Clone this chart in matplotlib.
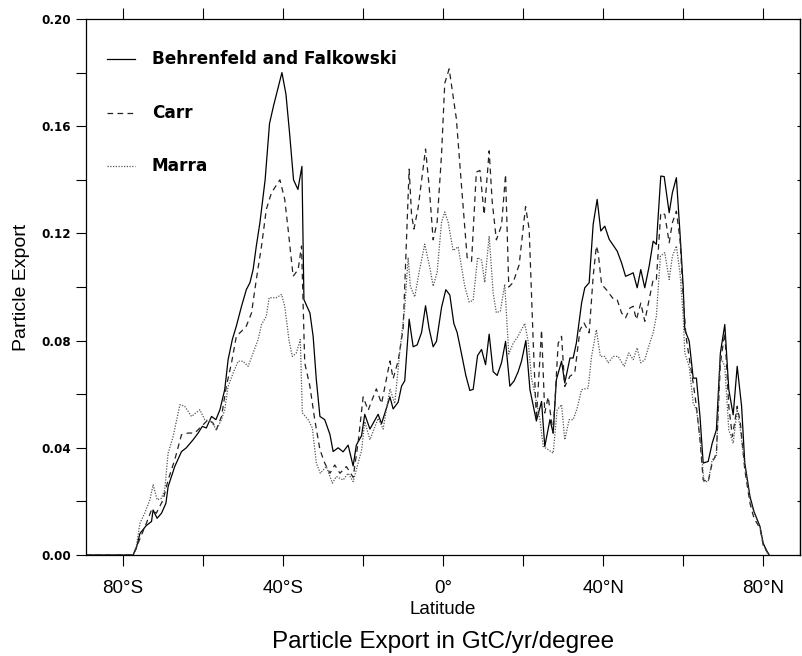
import numpy as np
import matplotlib
matplotlib.use("Agg")
import matplotlib.pyplot as plt
from matplotlib.ticker import FixedLocator, FuncFormatter

# zonal particle export (GtC/yr/degree) for three productivity models
bf_lat = [-89.4, -77.5, -76.7, -75.8, -74.2, -72.9, -72.5, -71.5, -70.4, -69.3, -68.75, -67.1, -65.4,
          -64.2, -62.5, -61.25, -60.2, -59.2, -57.9, -56.8, -55.8, -54.6, -53.75, -52.7, -51.7,
          -50.4, -49.2, -48.3, -47.5, -46.7, -45.8, -45.0, -44.5, -43.4, -42.4, -40.3, -39.3,
          -38.4, -37.4, -36.3, -35.3, -34.8, -33.3, -32.5, -31.7, -30.8, -29.6, -28.3, -27.5,
          -26.25, -25.0, -23.75, -22.5, -21.7, -20.4, -19.6, -18.3, -16.25, -15.4, -13.3, -12.5,
          -11.25, -10.4, -9.6, -8.5, -7.5, -6.5, -5.4, -4.4, -3.5, -2.5, -1.67, -0.4, 0.67, 1.67,
          2.67, 3.5, 4.6, 5.67, 6.67, 7.5, 8.6, 9.6, 10.6, 11.5, 12.5, 13.5, 14.6, 15.6, 16.67,
          17.75, 18.75, 19.6, 20.67, 21.7, 23.3, 24.6, 25.4, 26.7, 27.5, 28.3, 29.6, 30.4, 31.7,
          32.5, 33.3, 34.6, 35.4, 36.5, 37.5, 38.5, 39.4, 40.4, 41.5, 43.5, 44.6, 45.6, 46.7,
          47.5, 48.5, 49.4, 50.4, 51.5, 52.5, 53.3, 54.4, 55.25, 56.5, 57.3, 58.3, 59.2, 60.0,
          60.4, 61.5, 62.5, 63.3, 64.2, 65.0, 66.25, 67.25, 68.3, 69.3, 70.4, 71.4, 72.5, 73.5,
          74.6, 75.4, 76.7, 77.7, 79.2, 80.0, 81.0, 81.5]
bf_val = [0.0, 0.0, 0.0025, 0.008, 0.011, 0.0125, 0.0168, 0.0137, 0.0156, 0.0193, 0.0255, 0.033, 0.0386,
          0.040, 0.043, 0.0455, 0.048, 0.0474, 0.0517, 0.0505, 0.0542, 0.0617, 0.0729, 0.0804, 0.0854,
          0.0928, 0.099, 0.1016, 0.1065, 0.1153, 0.124, 0.134, 0.140, 0.161, 0.1676, 0.180, 0.172,
          0.1576, 0.140, 0.1364, 0.145, 0.0953, 0.0903, 0.0816, 0.0654, 0.0517, 0.0505, 0.045, 0.0386,
          0.040, 0.0385, 0.041, 0.0332, 0.041, 0.0445, 0.0525, 0.047, 0.0525, 0.049, 0.059, 0.0545,
          0.057, 0.063, 0.065, 0.088, 0.0777, 0.0784, 0.083, 0.093, 0.0844, 0.0777, 0.0797, 0.0924, 0.099, 0.097,
          0.0864, 0.083, 0.075, 0.067, 0.0614, 0.0618, 0.0744, 0.0767, 0.071, 0.0824, 0.0684, 0.067, 0.0718, 0.0797, 0.063,
          0.065, 0.0684, 0.0724, 0.080, 0.0617, 0.050, 0.0573, 0.0405, 0.0505, 0.0455, 0.0654, 0.0723, 0.0642, 0.0735,
          0.0735, 0.0791, 0.094, 0.0997, 0.1016, 0.1234, 0.1327, 0.1209, 0.1227, 0.1178, 0.1134, 0.109, 0.104, 0.1047,
          0.1053, 0.0997, 0.1065, 0.0997, 0.1078, 0.1171, 0.1159, 0.1414, 0.1412, 0.1277, 0.1352, 0.1408, 0.1202, 0.1003,
          0.0841, 0.0798, 0.066, 0.066, 0.0517, 0.0343, 0.0349, 0.0417, 0.0467, 0.0754, 0.086, 0.0617, 0.0523, 0.0704,
          0.0555, 0.0343, 0.0218, 0.0162, 0.0106, 0.0044, 0.0012, 0.0]

carr_lat = [-89.4, -77.5, -76.25, -74.2, -72.9, -71.7, -70.0, -68.75, -67.1, -65.4, -63.75, -62.1, -60.4,
            -58.75, -57.5, -56.7, -55.4, -54.2, -52.9, -51.7, -50.4, -49.2, -47.9, -46.7, -45.4,
            -44.2, -42.9, -40.8, -39.6, -38.75, -37.5, -36.25, -35.4, -35.0, -34.6, -33.3, -32.1,
            -30.8, -29.6, -28.3, -27.1, -25.8, -24.2, -22.5, -21.25, -20.0, -18.75, -16.7, -15.4,
            -13.3, -12.5, -11.25, -10.0, -8.5, -7.9, -7.3, -6.25, -4.4, -3.5, -2.5, -1.5, -0.4, 0.4,
            1.5, 3.3, 4.6, 6.0, 7.1, 8.3, 9.2, 10.25, 11.5, 12.25, 13.3, 14.6, 15.6, 16.4, 17.5, 19.0,
            20.6, 21.5, 22.5, 23.3, 24.6, 25.4, 26.25, 27.5, 28.75, 29.6, 30.4, 31.7, 32.9, 34.2, 35.2,
            36.5, 37.5, 38.3, 38.75, 39.6, 40.8, 42.5, 43.5, 44.6, 45.6, 46.7, 47.5, 48.3, 49.4, 50.4,
            51.5, 52.5, 53.3, 54.4, 55.4, 56.5, 57.3, 58.3, 59.2, 60.0, 60.7, 61.7, 62.5, 63.3, 64.2,
            65.0, 66.25, 67.25, 68.3, 69.3, 70.4, 71.4, 72.3, 73.5, 74.3, 75.4, 76.7, 77.7, 79.2, 80.0,
            81.25]
carr_val = [0.0, 0.0, 0.0044, 0.0118, 0.0168, 0.0156, 0.0206, 0.028, 0.0355, 0.0449, 0.0455, 0.0455, 0.048,
            0.0505, 0.0492, 0.0467, 0.0517, 0.0629, 0.0717, 0.0816, 0.0835, 0.0854, 0.0903, 0.1028, 0.1153,
            0.129, 0.1352, 0.140, 0.1327, 0.1215, 0.104, 0.1065, 0.1153, 0.0928, 0.0717, 0.0629, 0.0505,
            0.0393, 0.0343, 0.0305, 0.0336, 0.0305, 0.033, 0.029, 0.042, 0.059, 0.054, 0.062, 0.0565,
            0.0724, 0.0658, 0.0724, 0.0844, 0.144, 0.127, 0.1216, 0.1296, 0.1515, 0.1375, 0.1176, 0.1242, 0.1495, 0.176,
            0.1814, 0.1628, 0.1375, 0.111, 0.1096, 0.1429, 0.1435, 0.127, 0.1508, 0.132, 0.1176, 0.123, 0.142, 0.100, 0.1017, 0.1083,
            0.130, 0.1216, 0.080, 0.0505, 0.084, 0.053, 0.059, 0.0455, 0.079, 0.0816, 0.0629, 0.0667, 0.068, 0.084, 0.0866,
            0.0829, 0.104, 0.1153, 0.1128, 0.101, 0.099, 0.0956, 0.0953, 0.0903, 0.0885, 0.0922, 0.0928, 0.0878, 0.094, 0.0872,
            0.0953, 0.1028, 0.1028, 0.1277, 0.1271, 0.1165, 0.124, 0.1283, 0.1178, 0.0966, 0.0816, 0.0717, 0.0642, 0.0555, 0.043,
            0.028, 0.0274, 0.0343, 0.038, 0.0717, 0.0829, 0.0555, 0.0442, 0.0555, 0.0492, 0.0318, 0.0193, 0.0137, 0.010, 0.0037,
            0.0006]

marra_lat = [-89.4, -77.5, -76.7, -75.8, -74.6, -73.3, -72.5, -71.5, -70.4, -69.6, -68.75, -67.5, -66.7,
             -65.8, -64.6, -62.9, -60.8, -59.6, -57.9, -56.7, -55.4, -54.6, -53.75, -52.5, -51.25,
             -50.0, -48.75, -47.5, -46.25, -45.4, -44.2, -43.5, -41.7, -40.4, -39.6, -38.5, -37.7,
             -36.7, -35.7, -35.2, -33.75, -32.7, -31.7, -30.7, -29.2, -27.7, -26.7, -25.0, -23.75,
             -22.5, -21.25, -20.4, -19.6, -18.3, -16.25, -15.0, -13.3, -12.1, -10.8, -9.6, -8.75,
             -8.2, -7.1, -6.0, -4.6, -3.3, -2.5, -1.5, -0.4, 0.4, 1.25, 2.5, 3.75, 5.4, 6.5, 7.5, 8.6,
             9.6, 10.4, 11.5, 12.5, 13.3, 14.3, 15.4, 16.4, 17.5, 18.75, 20.4, 21.25, 22.1, 22.9, 24.2,
             25.0, 26.25, 27.5, 28.5, 29.6, 30.4, 31.5, 32.5, 33.5, 34.6, 36.25, 37.1, 38.3, 39.3, 40.4,
             41.25, 42.5, 43.75, 45.25, 46.4, 47.5, 48.5, 49.4, 50.4, 51.4, 52.5, 53.3, 54.3, 55.4,
             56.5, 57.3, 58.3, 59.2, 60.0, 60.4, 61.5, 62.5, 63.3, 64.2, 65.2, 66.25, 67.25, 68.3, 69.3,
             70.4, 71.4, 72.5, 73.5, 74.3, 75.4, 76.7, 77.7, 79.2, 80.0, 81.3]
marra_val = [0.0, 0.0, 0.0031, 0.0118, 0.0156, 0.0206, 0.0262, 0.0206, 0.0212, 0.0243, 0.038, 0.0442, 0.0498,
             0.0561, 0.0555, 0.0517, 0.0542, 0.0505, 0.0498, 0.0467, 0.0505, 0.0542, 0.0629, 0.0679, 0.0723,
             0.0723, 0.0704, 0.0754, 0.0804, 0.086, 0.0891, 0.096, 0.096, 0.0972, 0.0928, 0.0798, 0.0741,
             0.0754, 0.0804, 0.053, 0.0505, 0.0474, 0.0343, 0.0305, 0.033, 0.0268, 0.0293, 0.028, 0.0305,
             0.0274, 0.0343, 0.039, 0.0498, 0.043, 0.051, 0.047, 0.062, 0.0565, 0.0764, 0.0924, 0.111,
             0.1003, 0.0963, 0.1056, 0.116, 0.107, 0.1003, 0.1056, 0.1242, 0.128, 0.1242, 0.1136, 0.115, 0.1003, 0.0944, 0.095, 0.111,
             0.110, 0.1017, 0.119, 0.0977, 0.0904, 0.091, 0.101, 0.075, 0.079, 0.0817, 0.0864, 0.0797, 0.0658, 0.0604, 0.0505,
             0.0405, 0.0393, 0.038, 0.0542, 0.0561, 0.043, 0.0505, 0.0505, 0.0548, 0.0617, 0.0623, 0.0741, 0.0841, 0.0741, 0.0741,
             0.0717, 0.0741, 0.0741, 0.0704, 0.0754, 0.0729, 0.0773, 0.0717, 0.0729, 0.0779, 0.0829, 0.0891, 0.1115, 0.1128,
             0.1028, 0.1115, 0.1153, 0.1053, 0.0891, 0.0754, 0.0704, 0.0567, 0.0542, 0.0442, 0.0274, 0.0274, 0.0355, 0.0368, 0.0741,
             0.0704, 0.0467, 0.0417, 0.0542, 0.0467, 0.033, 0.0206, 0.0156, 0.0106, 0.0037, 0.0]

series_names = ["Behrenfeld and Falkowski", "Carr", "Marra"]
lat_ticks = [-80, -60, -40, -20, 0, 20, 40, 60, 80]
val_ticks = [0.0, 0.02, 0.04, 0.06, 0.08, 0.10, 0.12, 0.14, 0.16, 0.18, 0.20]


def lat_label(v, pos):
    v = int(round(v))
    if v % 40 != 0:
        return ""
    if v == 0:
        return "0\u00b0"
    return f"{abs(v)}\u00b0{'S' if v < 0 else 'N'}"


def val_label(v, pos):
    if int(round(v * 100)) % 4 != 0:
        return ""
    return f"{v:.2f}"


fig = plt.figure(figsize=(8.02, 6.56), dpi=100)
ax = fig.add_axes([85.5 / 802, 101 / 656, 714.5 / 802, 536 / 656])

styles = [dict(color="black", lw=0.9, ls="-"),
          dict(color="#222222", lw=0.9, dashes=(4.5, 3.5)),
          dict(color="#555555", lw=0.9, ls=(0, (1, 1.2)))]
data = [(bf_lat, bf_val), (carr_lat, carr_val), (marra_lat, marra_val)]
for (lx, vy), st in zip(data, styles):
    ax.plot(lx, vy, **st)

ax.set_xlim(-89.4, 89.2)
ax.set_ylim(0, 0.2)

ax.xaxis.set_major_locator(FixedLocator(lat_ticks))
ax.xaxis.set_major_formatter(FuncFormatter(lat_label))
ax.yaxis.set_major_locator(FixedLocator(val_ticks))
ax.yaxis.set_major_formatter(FuncFormatter(val_label))

ax.tick_params(axis="x", which="major", direction="out", length=8, width=0.8,
               top=True, bottom=True, labelsize=13.5, pad=10)
ax.tick_params(axis="y", which="major", direction="out", length=7.5, width=0.8,
               left=True, right=False, labelsize=8.6, pad=3)
for lab in ax.get_xticklabels():
    lab.set_fontfamily("Liberation Sans")
for lab in ax.get_yticklabels():
    lab.set_fontfamily("DejaVu Sans")
    lab.set_fontweight("bold")

# short inward ticks along the right frame
sec = ax.secondary_yaxis("right")
sec.yaxis.set_major_locator(FixedLocator(val_ticks))
sec.tick_params(direction="in", length=2.5, width=0.8, labelright=False)
sec.spines["right"].set_linewidth(0.9)

for sp in ax.spines.values():
    sp.set_linewidth(0.9)

ax.set_xlabel("Latitude", fontsize=13.5, family="Liberation Sans", labelpad=3)
ax.set_ylabel("Particle Export", fontsize=14, family="Liberation Sans", labelpad=8)

# legend samples drawn in axes coordinates
leg_y = [0.925, 0.825, 0.726]
for name, st, yy in zip(series_names, styles, leg_y):
    ax.plot([0.030, 0.069], [yy, yy], transform=ax.transAxes, **st)
    ax.text(0.093, yy, name, transform=ax.transAxes, va="center", ha="left",
            fontsize=12.2, family="DejaVu Sans", fontweight="bold")

fig.text(442.7 / 802, 1 - 642 / 656, "Particle Export in GtC/yr/degree",
         ha="center", va="center", fontsize=17.5, family="Liberation Sans")

fig.savefig("out.png", dpi=100)
